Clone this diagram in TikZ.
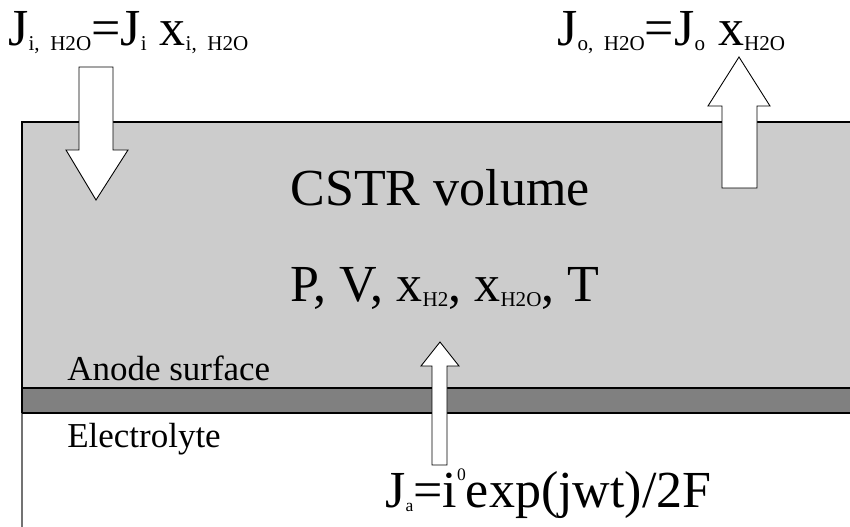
\documentclass[tikz,border=0pt]{standalone}
\usepackage{fontspec}
\setmainfont{Liberation Serif}
\usetikzlibrary{positioning}
\definecolor{cstrGray}{HTML}{CCCCCC}
\definecolor{anodeGray}{HTML}{808080}
\newcommand{\sbs}[1]{\raisebox{-2.8pt}{\fontsize{12}{12}\selectfont #1}}
\newcommand{\sps}[1]{\raisebox{15pt}{\fontsize{10}{10}\selectfont #1}}

\begin{document}
\begin{tikzpicture}[
  x=0.02cm, y=-0.02cm,
  big/.style={inner sep=0pt, font=\fontsize{29.6}{32}\selectfont},
  small/.style={inner sep=0pt, font=\fontsize{19.9}{22}\selectfont},
  flux/.style={draw=black, fill=white, line width=0.5pt, line join=miter},
]
  \useasboundingbox (0,0) rectangle (850,527);

  % cell layers
  \fill[cstrGray] (22,122) rectangle (850,388);
  \fill[anodeGray] (22,388) rectangle (850,413);
  \draw[line width=0.6pt] (850,122) -- (22,122) -- (22,413);
  \draw[black!55, line width=0.8pt] (22,413) -- (22,527);
  \draw[line width=1.2pt] (22,388) -- (850,388);
  \draw[line width=1pt] (22,413) -- (850,413);

  \node[big, anchor=base] (cstr) at (440,206) {CSTR volume};
  \node[big, anchor=base] (state) at (445,302)
    {P, V, x\sbs{H2}, x\sbs{H2O}, T};
  \node[small, anchor=base west] (anode) at (67,380) {Anode surface};
  \node[small, anchor=base west] (elec) at (67,448) {Electrolyte};

  % fluxes
  \node[big, anchor=base west] (jin) at (8,46)
    {J\sbs{i,\ \ H2O}=J\sbs{i} x\sbs{i,\ \ H2O}};
  \node[big, anchor=base west] (jout) at (557,46)
    {J\sbs{o,\ \ H2O}=J\sbs{o} x\sbs{H2O}};
  \node[big, anchor=base west] (ja) at (385,507)
    {J\sbs{\fontsize{10}{10}\selectfont a}=i\sps{0}exp(jwt)/2F};

  \draw[flux] (79,67) -- (113,67) -- (113,150) -- (128,150) -- (96,200)
    -- (66,150) -- (79,150) -- cycle;
  \draw[flux] (722,188) -- (757,188) -- (757,106) -- (770,106) -- (739,57)
    -- (708,106) -- (722,106) -- cycle;
  \draw[flux] (432,465) -- (447,465) -- (447,366) -- (459,366) -- (440,342)
    -- (421,366) -- (432,366) -- cycle;
\end{tikzpicture}
\end{document}
